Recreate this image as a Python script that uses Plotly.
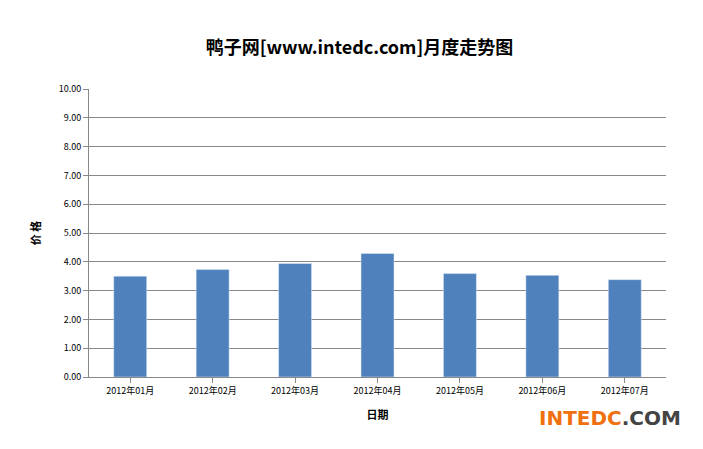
import plotly.graph_objects as go

months = ["2012年01月","2012年02月","2012年03月","2012年04月","2012年05月","2012年06月","2012年07月"]
prices = [3.50, 3.73, 3.94, 4.29, 3.59, 3.53, 3.38]
yticks = [i for i in range(11)]
ytext = [f"{v:.2f}" for v in yticks]

fig = go.Figure(go.Bar(x=months, y=prices, marker_color="#4F81BD"))
F = "Noto Sans CJK SC"
fig.update_layout(
    width=703, height=449, margin=dict(l=81, r=45, t=81, b=80),
    paper_bgcolor="white", plot_bgcolor="white", bargap=0.6, showlegend=False,
    title=dict(text="<b>鸭子网[www.intedc.com]月度走势图</b>", x=0.5, xanchor="center", y=0.925,
               font=dict(family=F, size=18, color="black")),
    font=dict(family=F, size=10, color="black"),
    xaxis=dict(showline=True, linecolor="#888", ticks="outside", tickcolor="#888",
               title=dict(text="<b>日期</b>", font=dict(size=11)), tickfont=dict(size=9)),
    yaxis=dict(range=[0, 10], tickvals=yticks, ticktext=ytext, showgrid=True, gridcolor="#888",
               showline=True, linecolor="#888", ticks="outside", tickcolor="#888", tickfont=dict(size=9),
               title=dict(text="<b>价 格</b>", font=dict(size=11))),
    annotations=[dict(text="<b>INTEDC<span style='color:#444'>.COM</span></b>", x=1.03, y=-0.19,
                      xref="paper", yref="paper", xanchor="right", showarrow=False,
                      font=dict(family="DejaVu Sans", size=20, color="#F07010"))],
)
fig.write_html("out.html")
